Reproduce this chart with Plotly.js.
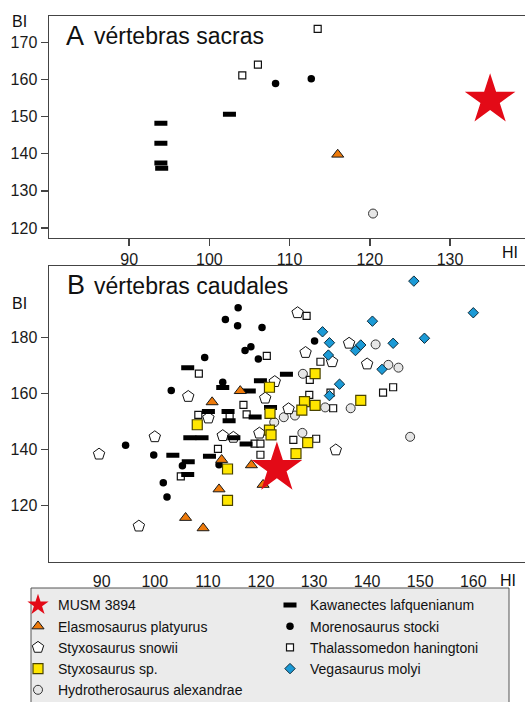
<!DOCTYPE html>
<html><head><meta charset="utf-8">
<script src="https://cdn.plot.ly/plotly-3.0.1.min.js"></script>
<style>html,body{margin:0;padding:0;background:#fff;overflow:hidden}#chart{width:525px;height:702px}</style>
</head><body><div id="chart"></div>
<script>
// ---------- DATA (HI = x, BI = y) ----------
// Panel A: vértebras sacras
const musmA_HI = [135.0];
const musmA_BI = [154.5];
const kawA_HI = [93.95, 93.95, 93.95, 94.05, 102.5];
const kawA_BI = [148.2, 142.8, 137.5, 136.1, 150.6];
const thaA_HI = [104.1, 106.05, 113.5];
const thaA_BI = [161.1, 164.0, 173.6];
const morA_HI = [108.25, 112.7];
const morA_BI = [158.9, 160.2];
const elaA_HI = [116.0];
const elaA_BI = [139.8];
const hydA_HI = [120.4];
const hydA_BI = [123.9];

// Panel B: vértebras caudales
const musmB_HI = [123.0];
const musmB_BI = [133.4];
const morB_HI = [115.7, 113.3, 115.6, 120.2, 118.1, 117.0, 109.4, 119.5, 130.1, 103.1, 112.8, 94.5, 99.8, 105.2, 112.1, 101.6, 102.3];
const morB_BI = [190.7, 186.5, 184.3, 183.6, 176.8, 175.4, 172.9, 172.4, 178.8, 161.1, 164.1, 141.6, 138.1, 134.3, 134.6, 128.2, 123.1];
const kawB_HI = [106.2, 124.8, 119.9, 112.8, 117.8, 110.1, 113.8, 114.0, 118.9, 121.8, 106.6, 108.9, 114.9, 117.2, 103.4, 110.3, 106.3, 106.2];
const kawB_BI = [169.3, 166.9, 164.6, 162.2, 161.0, 153.6, 153.6, 150.3, 151.7, 155.1, 144.3, 144.3, 144.3, 142.0, 138.0, 137.7, 135.7, 131.1];
const thaB_HI = [128.6, 121.1, 108.3, 131.2, 129.2, 129.1, 133.1, 133.6, 143.0, 144.9, 116.7, 117.3, 108.2, 114.1, 126.1, 130.4, 118.8, 119.9, 119.9, 111.9, 104.9];
const thaB_BI = [187.8, 173.5, 167.2, 171.4, 164.9, 159.6, 160.4, 154.8, 160.4, 162.3, 156.0, 152.6, 152.4, 152.0, 143.5, 143.9, 142.2, 142.2, 138.2, 140.3, 130.5];
const snyB_HI = [126.9, 128.4, 133.4, 136.6, 140.0, 122.6, 120.8, 106.3, 110.1, 112.8, 114.8, 119.7, 100.0, 89.5, 97.0, 125.2, 134.1];
const snyB_BI = [188.9, 174.7, 171.4, 178.0, 170.6, 164.3, 158.4, 159.0, 151.3, 145.0, 144.4, 145.9, 144.6, 138.4, 112.7, 154.6, 139.9];
const sspB_HI = [130.2, 121.6, 128.2, 130.2, 127.7, 138.8, 121.7, 108.0, 121.6, 121.9, 128.8, 126.6, 113.7, 113.7];
const sspB_BI = [167.2, 162.3, 157.2, 155.8, 154.1, 157.6, 153.0, 148.9, 147.0, 145.3, 142.5, 138.6, 133.1, 121.9];
const hydB_HI = [141.6, 144.0, 145.9, 127.9, 132.1, 136.9, 126.4, 124.3, 122.5, 127.8, 148.1];
const hydB_BI = [177.6, 170.3, 169.3, 167.1, 155.1, 154.8, 152.2, 151.6, 149.8, 146.0, 144.6];
const vegB_HI = [148.8, 160.0, 141.0, 150.8, 131.6, 132.9, 144.9, 138.8, 137.8, 132.7, 142.8, 134.8, 132.9];
const vegB_BI = [200.2, 188.9, 185.9, 179.8, 182.1, 178.2, 178.0, 177.4, 175.4, 173.8, 168.7, 163.4, 159.3];
const elaB_HI = [116.1, 110.8, 112.6, 118.2, 112.1, 120.4, 105.8, 109.1];
const elaB_BI = [161.0, 157.0, 136.4, 134.5, 125.9, 127.5, 115.7, 112.0];

const xTicksA = [90, 100, 110, 120, 130];
const yTicksA = [120, 130, 140, 150, 160, 170];
const xTicksB = [90, 100, 110, 120, 130, 140, 150, 160];
const yTicksB = [120, 140, 160, 180];

// ---------- STYLE ----------
const W = 525, H = 702;
const FONT = '"Liberation Sans", Arial, sans-serif';
const STY = {
  musm: {name:'MUSM 3894', symbol:'star', size:38, color:'#E30A17', line:{color:'#E30A17', width:0}, rank:1},
  kaw:  {name:'Kawanectes lafquenianum', symbol:'line-ew', size:9.3, color:'#000', line:{color:'#000', width:5}, rank:2},
  ela:  {name:'Elasmosaurus platyurus', symbol:'triangle-up', size:10.5, color:'#EE7A0A', line:{color:'#1a1a1a', width:1}, rank:3},
  mor:  {name:'Morenosaurus stocki', symbol:'circle', size:7.5, color:'#000', line:{color:'#000', width:0}, rank:4},
  sny:  {name:'Styxosaurus snowii', symbol:'pentagon', size:12, color:'#fff', line:{color:'#111', width:1}, rank:5},
  tha:  {name:'Thalassomedon haningtoni', symbol:'square', size:7, color:'#fff', line:{color:'#111', width:1.2}, rank:6},
  ssp:  {name:'Styxosaurus sp.', symbol:'square', size:10, color:'#FFE600', line:{color:'#4a4300', width:1.2}, rank:7},
  veg:  {name:'Vegasaurus molyi', symbol:'diamond', size:8, color:'#1B9AD6', line:{color:'#0b2a3a', width:1}, rank:8},
  hyd:  {name:'Hydrotherosaurus alexandrae', symbol:'circle', size:9, color:'#E6E6E6', line:{color:'#333', width:1}, rank:9}
};

function tr(key, xs, ys, panel, showlegend) {
  const s = STY[key];
  return {
    type:'scatter', mode:'markers', x:xs, y:ys,
    xaxis: panel === 'A' ? 'x' : 'x2', yaxis: panel === 'A' ? 'y' : 'y2',
    name:s.name, showlegend:showlegend, legendrank:s.rank, hoverinfo:'skip',
    marker:{symbol:s.symbol, size:s.size, color:s.color, line:s.line, opacity:1}
  };
}

const traces = [
  tr('hyd', hydA_HI, hydA_BI, 'A', false),
  tr('tha', thaA_HI, thaA_BI, 'A', false),
  tr('mor', morA_HI, morA_BI, 'A', false),
  tr('kaw', kawA_HI, kawA_BI, 'A', false),
  tr('ela', elaA_HI, elaA_BI, 'A', false),
  tr('musm', musmA_HI, musmA_BI, 'A', false),
  tr('hyd', hydB_HI, hydB_BI, 'B', true),
  tr('tha', thaB_HI, thaB_BI, 'B', true),
  tr('sny', snyB_HI, snyB_BI, 'B', true),
  tr('mor', morB_HI, morB_BI, 'B', true),
  tr('kaw', kawB_HI, kawB_BI, 'B', true),
  tr('ssp', sspB_HI, sspB_BI, 'B', true),
  tr('ela', elaB_HI, elaB_BI, 'B', true),
  tr('veg', vegB_HI, vegB_BI, 'B', true),
  tr('musm', musmB_HI, musmB_BI, 'B', true)
];

const px = v => v / W;
const py = v => 1 - v / H;
const AX = '#444';
const baseX = {showgrid:false, zeroline:false, showline:true, linecolor:AX, linewidth:1.5, mirror:true,
  tickmode:'array', tickfont:{size:16, color:'#1a1a1a', family:FONT}, fixedrange:true};
const baseY = {showgrid:false, zeroline:false, showline:true, linecolor:AX, linewidth:1.5, mirror:false,
  tickmode:'array', ticks:'outside', ticklen:7, tickwidth:1.5, tickcolor:AX,
  tickfont:{size:16, color:'#1a1a1a', family:FONT}, fixedrange:true};

function ann(text, x, y, size, xanchor) {
  return {text:text, x:px(x), y:py(y), xref:'paper', yref:'paper', showarrow:false,
    xanchor:xanchor || 'center', yanchor:'middle', font:{size:size, color:'#111', family:FONT}};
}

const layout = {
  width:W, height:H, margin:{l:0, r:0, t:0, b:0, autoexpand:false},
  paper_bgcolor:'#fff', plot_bgcolor:'#fff', font:{family:FONT},
  showlegend:true,
  xaxis: Object.assign({}, baseX, {domain:[px(49), 1], range:[80, 139.35], tickvals:xTicksA,
    ticks:'outside', ticklen:7, tickwidth:1.5, tickcolor:AX, anchor:'y'}),
  yaxis: Object.assign({}, baseY, {domain:[py(237.7), py(16)], range:[117.4, 177.07], tickvals:yTicksA, anchor:'x'}),
  xaxis2: Object.assign({}, baseX, {domain:[px(49), 1], range:[80.07, 169.74], tickvals:xTicksB,
    ticks:'outside', ticklen:5, tickcolor:'rgba(0,0,0,0)', anchor:'y2'}),
  yaxis2: Object.assign({}, baseY, {domain:[py(561.7), py(266)], range:[100, 205.6], tickvals:yTicksB, anchor:'x2'}),
  legend: {orientation:'h', x:px(18), xanchor:'left', y:py(589.4), yanchor:'top',
    bgcolor:'rgba(0,0,0,0)', borderwidth:0, font:{size:14, color:'#111', family:FONT},
    entrywidth:207, entrywidthmode:'pixels', itemsizing:'trace', traceorder:'normal'},
  shapes: [{type:'rect', xref:'paper', yref:'paper', x0:px(31), x1:px(509), y0:py(588), y1:py(704),
    fillcolor:'#EBEBEB', line:{color:'#555', width:1}, layer:'below'}],
  annotations: [
    ann('BI', 19, 21, 16), ann('HI', 510, 253, 16),
    ann('BI', 19, 304, 16), ann('HI', 508, 580, 16),
    ann('A', 64, 35.6, 27, 'left'), ann('vértebras sacras', 91.5, 36, 23, 'left'),
    ann('B', 65, 284.5, 27, 'left'), ann('vértebras caudales', 91.5, 286, 23, 'left')
  ]
};

Plotly.newPlot('chart', traces, layout, {displayModeBar:false, staticPlot:true});
</script></body></html>
